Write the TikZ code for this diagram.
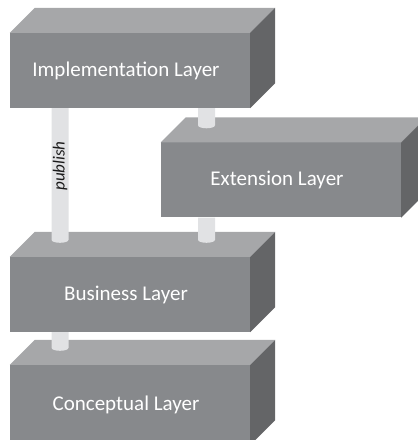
\documentclass[tikz,border=0pt]{standalone}
\usepackage{fontspec}
\setmainfont{Carlito}
\definecolor{frontc}{HTML}{87898C}
\definecolor{topc}{HTML}{A6A7A9}
\definecolor{sidec}{HTML}{646567}
\definecolor{pillarc}{HTML}{E1E2E4}
\definecolor{labelc}{HTML}{1A1A1A}
\newcommand\layerfaces[1]{%
  \fill[topc] (#1.north west) -- ++(25,25) -- ([shift={(25,25)}]#1.north east) -- (#1.north east) -- cycle;
  \fill[sidec] (#1.north east) -- ++(25,25) -- ([shift={(25,25)}]#1.south east) -- (#1.south east) -- cycle;}
\newcommand\drawpillar[3]{% x, upper node, lower node
  \coordinate (pt) at (#1, 0 |- #2.south);
  \coordinate (pb) at (#1, 0 |- #3.north);
  \fill[pillarc] ([xshift=-8.5pt]pt) -- ([shift={(-8.5,17)}]pb) arc[start angle=180, end angle=360, x radius=8.5, y radius=3] -- ([xshift=8.5pt]pt) -- cycle;}
\begin{document}
\begin{tikzpicture}[x=1pt,y=1pt,
  layer/.style={rectangle, fill=frontc, minimum width=240pt, minimum height=75pt, inner sep=0pt, text=white, font=\fontsize{21}{25}\selectfont}]
\useasboundingbox (0,0) rectangle (418,440);
\node[layer, minimum height=80pt] (con) at (130,35) {Conceptual Layer\hspace*{8pt}};
\layerfaces{con}
\node[layer] (bus) at (130,145.5) {Business Layer\hspace*{8pt}};
\layerfaces{bus}
\node[layer] (ext) at (281,260) {Extension Layer\hspace*{8pt}};
\layerfaces{ext}
\node[layer] (impl) at (130,369.5) {Implementation Layer\hspace*{8pt}};
\layerfaces{impl}
\drawpillar{60}{impl}{bus}
\drawpillar{206.5}{impl}{ext}
\drawpillar{206.5}{ext}{bus}
\drawpillar{60}{bus}{con}
\node[rotate=90, text=labelc, font=\itshape\fontsize{17}{20}\selectfont, inner sep=0pt] (pub) at (60,274) {publish};
\end{tikzpicture}
\end{document}
